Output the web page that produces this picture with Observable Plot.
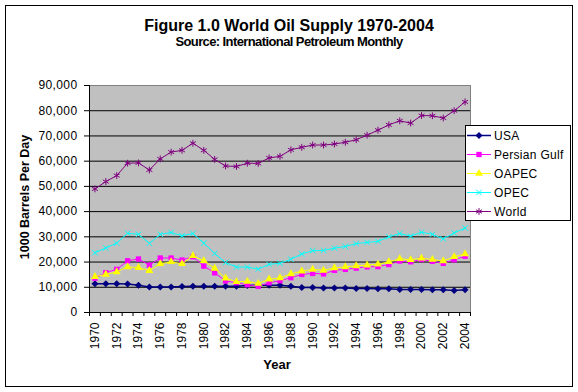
<!DOCTYPE html>
<html>
<head>
<meta charset="utf-8">
<script src="https://cdn.jsdelivr.net/npm/d3@7"></script>
<script src="https://cdn.jsdelivr.net/npm/@observablehq/plot@0.6"></script>
<style>
  html, body { margin: 0; padding: 0; background: #fff; }
  #wrap { position: relative; width: 578px; height: 392px; overflow: hidden; background: #fff;
          font-family: "Liberation Sans", Arial, sans-serif; color: #000; }
  #frame { position: absolute; left: 5px; top: 5px; width: 566px; height: 380px; border: 1px solid #000; }
  #chart { position: absolute; left: 0; top: 0; }
  .title { position: absolute; left: 5px; width: 568px; text-align: center; font-weight: bold; white-space: nowrap; }
  #t1 { top: 18px; font-size: 16px; line-height: 16px; }
  #t2 { top: 35px; font-size: 13px; line-height: 13px; letter-spacing: -0.6px; }
  #xlab { position: absolute; left: 227px; width: 100px; top: 358px; text-align: center; font-weight: bold;
          font-size: 13px; line-height: 13px; }
  #ylab { position: absolute; left: -75px; width: 200px; top: 190px; text-align: center; font-weight: bold;
          font-size: 12.5px; line-height: 14px; transform: rotate(-90deg); white-space: nowrap; }
  #legend { position: absolute; left: 465px; top: 125px; width: 104px; height: 94px; border: 1px solid #000; background: #fff; }
  #legend .row { height: 19px; display: flex; align-items: center; font-size: 12px; letter-spacing: 0.3px; white-space: nowrap; }
  #legend svg { flex: none; margin-right: 1px; }
  #chart svg g[aria-label="y-axis tick label"] text { letter-spacing: 0.4px; }
</style>
</head>
<body>
<div id="wrap">
  <div id="frame"></div>
  <div id="chart"></div>
  <div class="title" id="t1">Figure 1.0 World Oil Supply 1970-2004</div>
  <div class="title" id="t2">Source: International Petroleum Monthly</div>
  <div id="ylab">1000 Barrels Per Day</div>
  <div id="xlab">Year</div>
  <div id="legend"></div>
</div>
<script>
const years = [1970,1971,1972,1973,1974,1975,1976,1977,1978,1979,1980,1981,1982,1983,1984,1985,1986,1987,1988,1989,1990,1991,1992,1993,1994,1995,1996,1997,1998,1999,2000,2001,2002,2003,2004];
const usa = [11400,11400,11400,11300,10800,10100,10100,10100,10300,10400,10400,10400,10400,10400,10700,10800,10800,10800,10400,9900,9900,9700,9700,9700,9500,9500,9400,9400,9100,9100,9100,9000,9000,8700,9000];
const persianGulf = [13600,15800,17100,20500,21200,18800,21600,21600,20800,22100,18400,15700,12500,11800,11000,10400,11800,12600,13800,15100,15500,15300,16700,17100,17600,18100,18200,19000,20400,20100,21000,20300,19500,20900,22300];
const oapec = [14200,15100,16100,18100,17800,16600,19300,20100,19300,22500,20500,17500,13600,12200,12300,11500,13200,13700,15300,16400,17100,16700,17700,18100,18500,18800,19100,20100,21300,20900,21500,21000,20400,22100,23200];
const opec = [23700,25600,27500,31400,31000,27400,31000,31700,30400,31300,27500,23400,19800,18000,18000,17200,19100,19500,21100,23200,24500,24600,25500,26200,27300,27800,28200,30000,31300,30300,31800,31000,29200,31500,33500];
const world = [49000,51900,54300,59200,59300,56500,60900,63600,64300,67100,64300,60700,58100,57900,59200,59100,61300,61900,64500,65500,66400,66400,66800,67500,68500,70300,72300,74400,76000,75100,78100,78000,77100,80000,83500];

const yTicks = [0,10000,20000,30000,40000,50000,60000,70000,80000,90000];
const xLabels = [1970,1972,1974,1976,1978,1980,1982,1984,1986,1988,1990,1992,1994,1996,1998,2000,2002,2004];

const seriesDefs = [
  {name: "USA", values: usa, color: "#000080", symbol: "diamond2", r: 3.2, filled: true, lw: 1.5},
  {name: "Persian Gulf", values: persianGulf, color: "#FF00FF", symbol: "square2", r: 3.4, filled: true, lw: 1},
  {name: "OAPEC", values: oapec, color: "#FFFF00", symbol: "triangle2", r: 3.8, filled: true, lw: 1},
  {name: "OPEC", values: opec, color: "#00FFFF", symbol: "times", r: 2.6, filled: false, lw: 1},
  {name: "World", values: world, color: "#800080", symbol: "asterisk", r: 3.2, filled: false, lw: 1}
];

const bounds = years.map(y => y - 0.5).concat([years[years.length - 1] + 0.5]);
const xDomain = [bounds[0], bounds[bounds.length - 1]];

const seriesMarks = [];
for (const s of seriesDefs) {
  const rows = years.map((year, i) => ({year, value: s.values[i]}));
  seriesMarks.push(Plot.line(rows, {x: "year", y: "value", stroke: s.color, strokeWidth: s.lw}));
  seriesMarks.push(Plot.dot(rows, s.filled
    ? {x: "year", y: "value", symbol: s.symbol, r: s.r, fill: s.color, stroke: "none"}
    : {x: "year", y: "value", symbol: s.symbol, r: s.r, stroke: s.color, strokeWidth: 1, fill: "none"}));
}

const chart = Plot.plot({
  width: 578,
  height: 392,
  marginTop: 85,
  marginBottom: 80,
  marginLeft: 89,
  marginRight: 108,
  style: {background: "transparent", fontFamily: "'Liberation Sans', Arial, sans-serif", fontSize: "12px", color: "#000", overflow: "visible"},
  x: {type: "linear", domain: xDomain},
  y: {domain: [0, 90000]},
  marks: [
    Plot.frame({fill: "#C0C0C0", stroke: "none"}),
    Plot.ruleY(yTicks.filter(v => v > 0 && v < 90000), {stroke: "#000", strokeWidth: 1}),
    Plot.ruleY([90000], {stroke: "#808080"}),
    Plot.ruleX([xDomain[1]], {stroke: "#808080"}),
    ...seriesMarks,
    Plot.ruleX([xDomain[0]], {stroke: "#000"}),
    Plot.ruleY([0], {stroke: "#000"}),
    Plot.axisY({ticks: yTicks, tickSize: 5, tickPadding: 7, tickFormat: d3.format(","), label: null, stroke: "#000", fontSize: 12}),
    Plot.axisX({ticks: xLabels, tickSize: 0, tickPadding: 10, tickRotate: -90, tickFormat: d => String(d), label: null, fontSize: 12}),
    Plot.axisX({ticks: bounds, tickSize: 4, tickFormat: () => "", label: null, stroke: "#000"})
  ]
});
document.getElementById("chart").appendChild(chart);

// Legend (HTML)
const legend = d3.select("#legend");
for (const s of seriesDefs) {
  const row = legend.append("div").attr("class", "row");
  const sv = row.append("svg").attr("width", 27).attr("height", 19);
  sv.append("line").attr("x1", 1).attr("x2", 25).attr("y1", 9.5).attr("y2", 9.5)
    .attr("stroke", s.color).attr("stroke-width", s.lw);
  const symMap = {diamond2: d3.symbolDiamond2, square2: d3.symbolSquare2, triangle2: d3.symbolTriangle2, times: d3.symbolTimes, asterisk: d3.symbolAsterisk};
  const path = d3.symbol(symMap[s.symbol], s.r * s.r * Math.PI)();
  sv.append("path").attr("d", path).attr("transform", "translate(13,9.5)")
    .attr("fill", s.filled ? s.color : "none").attr("stroke", s.filled ? "none" : s.color);
  row.append("span").text(s.name);
}
</script>
</body>
</html>
